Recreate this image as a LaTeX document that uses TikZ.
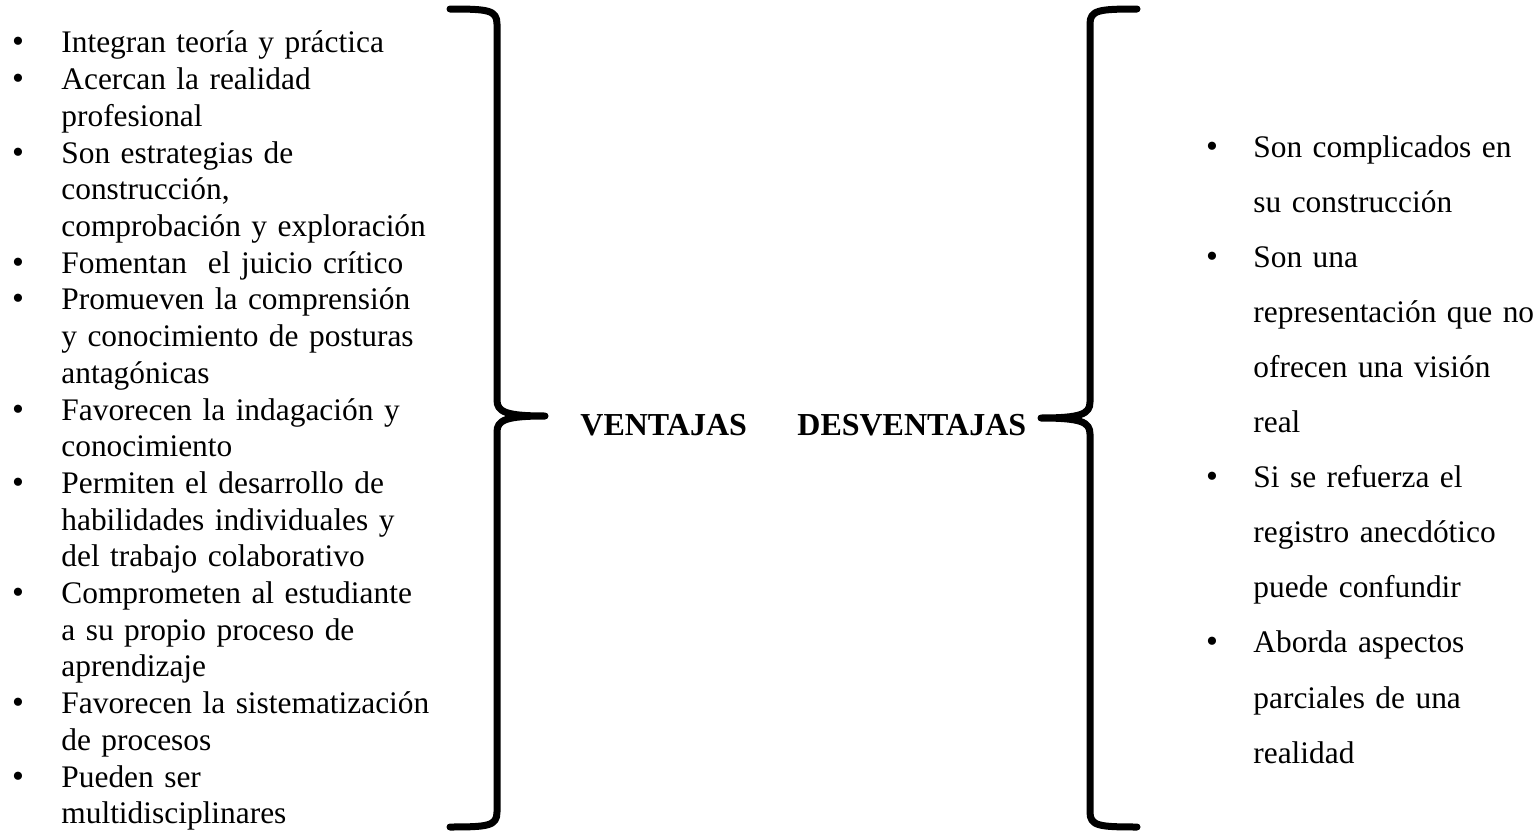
\documentclass[tikz,border=0pt]{standalone}
\usepackage{fontspec}
\setmainfont{Liberation Serif}

\tikzstyle{punto}=[anchor=base,inner sep=0pt,font=\fontsize{17}{17}\selectfont]
\tikzstyle{texto}=[anchor=base west,inner sep=0pt,text width=200pt,align=left,font=\fontsize{15.7}{18.35}\selectfont]
\tikzstyle{textoder}=[anchor=base west,inner sep=0pt,text width=150pt,align=left,font=\fontsize{15.7}{27.55}\selectfont]
\tikzstyle{titulo}=[anchor=base west,inner sep=0pt,font=\fontsize{16}{18}\selectfont\bfseries]
\tikzstyle{llave}=[draw,line width=3.5pt,line cap=round,line join=round]

\begin{document}
\begin{tikzpicture}[x=0.5pt, y=-0.5pt]
		\useasboundingbox (0,0) rectangle (1539,835);

		% ventajas
		\node [punto] (pv1)  at (18, 53.0)  {\textbullet};
		\node [texto] (v1)   at (61, 53.0)  {Integran teoría y práctica};
		\node [punto] (pv2)  at (18, 89.7)  {\textbullet};
		\node [texto] (v2)   at (61, 89.7)  {Acercan la realidad\\ profesional};
		\node [punto] (pv3)  at (18, 163.1) {\textbullet};
		\node [texto] (v3)   at (61, 163.1) {Son estrategias de\\ construcción,\\ comprobación y exploración};
		\node [punto] (pv4)  at (18, 273.2) {\textbullet};
		\node [texto] (v4)   at (61, 273.2) {Fomentan~ el juicio crítico};
		\node [punto] (pv5)  at (18, 309.9) {\textbullet};
		\node [texto] (v5)   at (61, 309.9) {Promueven la comprensión\\ y conocimiento de posturas\\ antagónicas};
		\node [punto] (pv6)  at (18, 420.0) {\textbullet};
		\node [texto] (v6)   at (61, 420.0) {Favorecen la indagación y\\ conocimiento};
		\node [punto] (pv7)  at (18, 493.4) {\textbullet};
		\node [texto] (v7)   at (61, 493.4) {Permiten el desarrollo de\\ habilidades individuales y\\ del trabajo colaborativo};
		\node [punto] (pv8)  at (18, 603.5) {\textbullet};
		\node [texto] (v8)   at (61, 603.5) {Comprometen al estudiante\\ a su propio proceso de\\ aprendizaje};
		\node [punto] (pv9)  at (18, 713.6) {\textbullet};
		\node [texto] (v9)   at (61, 713.6) {Favorecen la sistematización\\ de procesos};
		\node [punto] (pv10) at (18, 787.0) {\textbullet};
		\node [texto] (v10)  at (61, 787.0) {Pueden ser\\ multidisciplinares};

		% titulos
		\node [titulo] (ventajas)    at (580, 435) {VENTAJAS};
		\node [titulo] (desventajas) at (797, 435) {DESVENTAJAS};

		% desventajas
		\node [punto]    (pd1) at (1212, 157.0) {\textbullet};
		\node [textoder] (d1)  at (1253, 157.0) {Son complicados en\\ su construcción};
		\node [punto]    (pd2) at (1212, 267.2) {\textbullet};
		\node [textoder] (d2)  at (1253, 267.2) {Son una\\ representación que no\\ ofrecen una visión\\ real};
		\node [punto]    (pd3) at (1212, 487.6) {\textbullet};
		\node [textoder] (d3)  at (1253, 487.6) {Si se refuerza el\\ registro anecdótico\\ puede confundir};
		\node [punto]    (pd4) at (1212, 652.9) {\textbullet};
		\node [textoder] (d4)  at (1253, 652.9) {Aborda aspectos\\ parciales de una\\ realidad};

		% llaves
		\draw [llave] (450,9) .. controls (488,9) and (497,10) .. (497,24)
			-- (497,400) .. controls (497,412) and (506,416) .. (545,416)
			.. controls (506,416) and (497,420) .. (497,432)
			-- (497,812) .. controls (497,826) and (488,827) .. (450,827);
		\draw [llave] (1137,9) .. controls (1099,9) and (1090,10) .. (1090,24)
			-- (1090,402) .. controls (1090,414) and (1081,418) .. (1041,418)
			.. controls (1081,418) and (1090,422) .. (1090,434)
			-- (1090,812) .. controls (1090,826) and (1099,827) .. (1137,827);
	\end{tikzpicture}
\end{document}
